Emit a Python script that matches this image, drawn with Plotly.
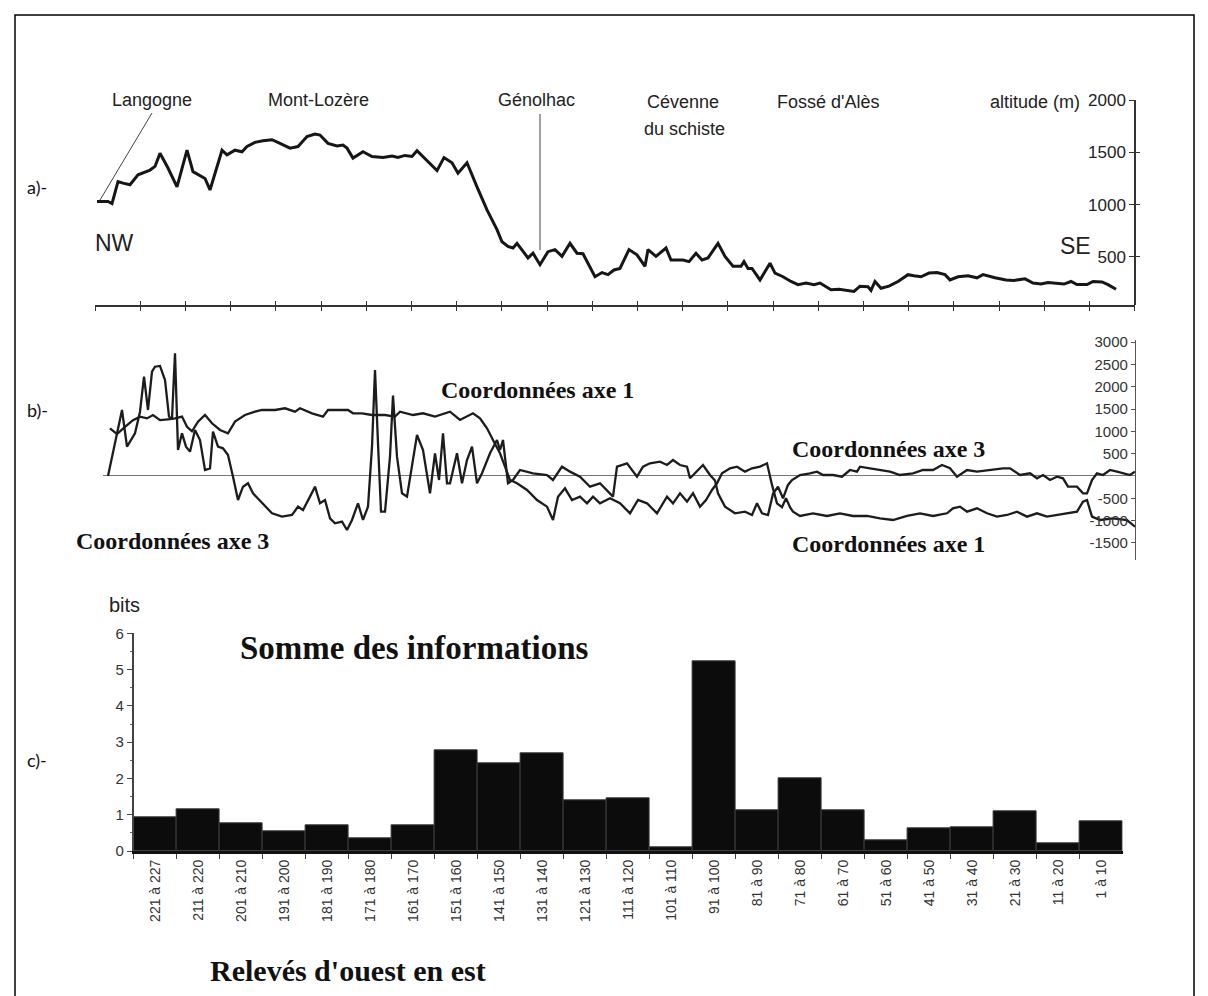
import plotly.graph_objects as go

W, H = 1208, 996
def fx(p): return p / W
def fy(p): return 1 - p / H

# ---------------- a) altitude profile (distance along transect, altitude m)
profile_dist = [0,11,15,21,26,33,41,53,58,63,71,80,90,96,108,113,125,130,138,145,
                150,158,166,175,183,193,201,210,218,223,231,240,246,250,256,266,275,286,295,301,
                308,315,320,330,340,347,355,361,370,380,390,400,405,411,416,420,431,436,443,451,
                458,465,473,480,486,498,505,511,517,523,532,540,548,551,559,569,574,586,592,599,
                605,611,621,628,636,644,647,651,655,663,673,678,686,694,701,709,717,723,728,734,
                742,751,757,763,771,774,778,784,792,801,811,817,824,832,840,848,853,861,871,880,
                886,898,909,917,928,936,944,951,959,967,974,980,990,996,1005,1011,1019]
profile_alt = [1030,1030,1010,1220,1205,1190,1285,1330,1365,1490,1350,1170,1520,1315,1250,1140,1520,1475,1520,1505,
               1555,1595,1610,1620,1585,1540,1555,1650,1675,1665,1585,1560,1570,1540,1445,1505,1460,1450,1465,1450,
               1470,1460,1515,1420,1325,1450,1400,1300,1400,1170,950,760,645,600,585,630,490,535,425,550,
               570,505,630,535,530,310,350,330,375,390,570,520,410,570,505,585,470,470,455,535,
               470,490,630,505,410,410,455,390,390,280,440,345,310,265,235,250,235,250,220,185,
               190,180,170,220,215,180,265,200,220,265,330,320,310,345,350,330,280,310,320,300,
               330,300,280,275,290,250,240,255,250,240,265,235,235,265,260,235,190]
alt_ticks = [500, 1000, 1500, 2000]

# ---------------- b) coordinates on factorial axes 1 and 3
axe1_dist = [10,17,25,33,40,47,53,60,68,75,82,87,92,98,105,112,120,128,135,145,
             155,162,175,185,195,200,212,223,228,248,253,262,272,285,295,300,313,323,335,350,
             360,367,373,380,387,393,400,405,410,417,427,437,447,453,458,465,472,480,487,493,
             500,510,520,530,538,547,557,567,573,580,587,593,600,606,612,617,622,630,637,645,
             652,660,667,672,677,682,686,690,693,700,713,727,740,753,767,780,793,807,820,833,
             847,853,860,867,877,887,897,907,917,927,937,947,957,967,977,983,987,992,1000,1013,
             1027,1035]
axe1_coord = [1068,940,1100,1250,1330,1290,1366,1250,1270,1290,1330,1100,1000,1217,1366,1180,1030,956,1217,1366,
              1440,1478,1478,1516,1440,1516,1404,1330,1478,1478,1404,1404,1366,1366,1330,1440,1366,1404,1330,1440,
              1254,1330,1404,1292,1068,806,508,209,-90,-164,-314,-538,-687,-986,-463,-276,-538,-463,-612,-463,
              -612,-500,-612,-836,-538,-612,-836,-463,-612,-388,-574,-388,-687,-538,-314,-164,60,172,209,97,
              172,209,284,-200,-612,-700,-500,-700,-799,-896,-836,-896,-836,-896,-896,-948,-986,-896,-836,-896,
              -836,-724,-687,-799,-724,-836,-911,-874,-799,-911,-836,-911,-874,-836,-799,-575,-538,-911,-986,-948,
              -986,-1135]
axe3_dist = [8,22,27,35,40,44,48,52,55,60,65,69,72,75,78,82,86,90,95,100,
             105,110,113,118,123,128,133,138,143,148,153,162,172,182,192,198,203,210,215,220,
             225,230,235,242,247,252,258,263,268,272,275,278,281,285,290,293,297,302,307,317,
             323,330,335,339,343,347,350,357,362,367,372,377,382,390,397,400,403,408,413,420,
             433,447,453,462,470,480,490,500,510,513,517,527,537,543,550,560,567,573,580,587,
             590,597,603,610,615,618,625,635,645,652,657,662,668,673,678,683,688,692,700,710,
             717,723,733,742,750,757,760,770,780,790,800,813,823,833,842,850,857,867,877,890,
             903,910,920,930,937,943,950,957,963,968,977,983,987,992,997,1003,1010,1017,1023,1030,
             1035]
axe3_coord = [0,1478,656,956,1440,2224,1478,2336,2448,2464,2150,1329,1292,2748,582,956,656,545,1030,806,
              134,172,993,656,620,470,-15,-538,-240,-164,-388,-612,-836,-911,-874,-687,-762,-463,-240,-612,
              -538,-949,-1060,-1023,-1210,-985,-612,-985,-687,656,2374,731,-799,-799,432,1800,432,-388,-463,918,
              582,-388,508,-90,956,-164,-164,508,-164,358,656,-164,60,508,806,582,806,-164,-90,134,
              60,22,-90,209,97,-15,-240,-164,-388,-463,209,284,-15,209,284,321,246,358,246,209,
              -52,97,246,22,-100,-388,-687,-836,-799,-874,-612,-836,-874,-400,-240,-500,-200,-90,22,60,
              97,22,22,-15,134,97,209,172,134,97,22,60,134,134,246,172,-15,134,97,134,
              172,172,22,60,-52,22,-90,-15,-52,-240,-240,-388,-388,-90,60,22,134,97,60,22,
              97]
coord_ticks = [3000, 2500, 2000, 1500, 1000, 500, -500, -1000, -1500]
coord_ticktext = ["3000", "2500", "2000", "1500", "1000", "500", "-500", "-1000", "-1500"]

# ---------------- c) sum of information (bits) per group of relevés
releve_groups = ["221 à 227", "211 à 220", "201 à 210", "191 à 200", "181 à 190", "171 à 180",
                 "161 à 170", "151 à 160", "141 à 150", "131 à 140", "121 à 130", "111 à 120",
                 "101 à 110", "91 à 100", "81 à 90", "71 à 80", "61 à 70", "51 à 60",
                 "41 à 50", "31 à 40", "21 à 30", "11 à 20", "1 à 10"]
info_bits = [0.94, 1.15, 0.76, 0.54, 0.71, 0.35, 0.71, 2.77, 2.42, 2.70, 1.41, 1.46,
             0.11, 5.24, 1.11, 2.01, 1.11, 0.30, 0.63, 0.65, 1.09, 0.20, 0.81]

SANS = "Liberation Sans, Arial, Helvetica, sans-serif"
SERIF = "Liberation Serif, Times New Roman, serif"
INK = "#161616"

fig = go.Figure()
fig.add_trace(go.Scatter(x=profile_dist, y=profile_alt, mode="lines",
                         line=dict(color=INK, width=3), xaxis="x", yaxis="y",
                         showlegend=False, hoverinfo="skip"))
fig.add_trace(go.Scatter(x=axe1_dist, y=axe1_coord, mode="lines", name="Coordonnées axe 1",
                         line=dict(color="#1c1c1c", width=2.3), xaxis="x2", yaxis="y2",
                         showlegend=False, hoverinfo="skip"))
fig.add_trace(go.Scatter(x=axe3_dist, y=axe3_coord, mode="lines", name="Coordonnées axe 3",
                         line=dict(color="#1c1c1c", width=2.3), xaxis="x2", yaxis="y2",
                         showlegend=False, hoverinfo="skip"))
fig.add_trace(go.Bar(x=releve_groups, y=info_bits, xaxis="x3", yaxis="y3",
                     marker=dict(color="#0c0c0c", line=dict(color="#3c3c3c", width=1)),
                     showlegend=False, hoverinfo="skip"))
# empty traces so the overlay axes (crossing tick marks of panel a) get drawn
fig.add_trace(go.Scatter(x=[], y=[], xaxis="x4", yaxis="y", showlegend=False, hoverinfo="skip"))
fig.add_trace(go.Scatter(x=[], y=[], xaxis="x", yaxis="y4", showlegend=False, hoverinfo="skip"))

fig.update_layout(
    width=W, height=H, margin=dict(l=0, r=0, t=0, b=0, autoexpand=False),
    paper_bgcolor="white", plot_bgcolor="rgba(0,0,0,0)", bargap=0,
    xaxis=dict(domain=[fx(95), fx(1135)], range=[-2, 1038], anchor="y", automargin=False,
               showline=True, linecolor="#333", linewidth=1.5,
               ticks="outside", ticklen=4, tickcolor="#333", tickwidth=1,
               tick0=-2, dtick=45.2, showticklabels=False,
               showgrid=False, zeroline=False),
    xaxis4=dict(domain=[fx(95), fx(1135)], range=[-2, 1038], anchor="y", overlaying="x",
                automargin=False, showline=False,
                ticks="inside", ticklen=4, tickcolor="#333", tickwidth=1,
                tick0=-2, dtick=45.2, showticklabels=False, showgrid=False, zeroline=False),
    yaxis=dict(domain=[fy(305), fy(100)], range=[40, 2000], anchor="free",
               position=fx(1135), side="left", automargin=False,
               showline=True, linecolor="#333", linewidth=1.5,
               ticks="outside", ticklen=5, tickcolor="#333",
               tickvals=alt_ticks, tickfont=dict(family=SANS, size=17, color="#222"),
               showgrid=False, zeroline=False),
    yaxis4=dict(domain=[fy(305), fy(100)], range=[40, 2000], anchor="free", overlaying="y",
                position=fx(1135), side="left", automargin=False, showline=False,
                ticks="inside", ticklen=4, tickcolor="#333",
                tickvals=alt_ticks, showticklabels=False, showgrid=False, zeroline=False),
    xaxis2=dict(domain=[fx(103), fx(1135)], range=[3, 1035], anchor="y2", automargin=False,
                visible=False, showgrid=False, zeroline=False),
    yaxis2=dict(domain=[fy(560), fy(340)], range=[-1882, 3046], anchor="free",
                position=fx(1135), side="left", automargin=False,
                showline=True, linecolor="#555", linewidth=1.2,
                ticks="outside", ticklen=4, tickcolor="#555",
                tickvals=coord_ticks, ticktext=coord_ticktext,
                tickfont=dict(family=SANS, size=15, color="#333"),
                showgrid=False, zeroline=True, zerolinecolor="#777", zerolinewidth=1.2),
    xaxis3=dict(domain=[fx(133.6), fx(1122.6)], anchor="y3", type="category", automargin=False,
                showline=True, linecolor="#111", linewidth=3,
                ticks="outside", tickson="boundaries", ticklen=5, tickcolor="#444",
                tickangle=-90, tickfont=dict(family=SANS, size=14, color="#333"),
                showgrid=False, zeroline=False),
    yaxis3=dict(domain=[fy(851), fy(633.3)], range=[0, 6], anchor="x3", automargin=False,
                showline=True, linecolor="#444", linewidth=1.5,
                ticks="outside", ticklen=5, tickcolor="#444", dtick=1,
                minor=dict(dtick=0.5, ticks="outside", ticklen=2, tickcolor="#666"),
                tickfont=dict(family=SANS, size=15, color="#333"),
                showgrid=False, zeroline=False),
)

def note(text, px, py, size, family=SANS, color="#222", xanchor="center", bold=False):
    t = f"<b>{text}</b>" if bold else text
    fig.add_annotation(text=t, x=fx(px), y=fy(py), xref="paper", yref="paper",
                       xanchor=xanchor, yanchor="middle", showarrow=False,
                       font=dict(family=family, size=size, color=color))

# panel labels
for lab, py in [("a)-", 187), ("b)-", 410), ("c)-", 760)]:
    note(lab, 25, py, 18, family="Lato, Open Sans, sans-serif", color="#111", xanchor="left")

# a) place names
note("Langogne", 152, 100, 18)
note("Mont-Lozère", 318, 100, 18)
note("Génolhac", 536, 100, 18)
note("Cévenne", 683, 102, 18)
note("du schiste", 684, 129, 18)
note("Fossé d'Alès", 828, 102, 18)
note("altitude (m)", 1082, 102, 18, xanchor="right")
note("NW", 114, 243, 23)
note("SE", 1075, 246, 23)

# b) curve labels
note("Coordonnées axe 1", 537, 390, 24, family=SERIF, color="#111", bold=True)
note("Coordonnées axe 3", 888, 449, 24, family=SERIF, color="#111", bold=True)
note("Coordonnées axe 1", 888, 544, 24, family=SERIF, color="#111", bold=True)
note("Coordonnées axe 3", 172, 541, 24, family=SERIF, color="#111", bold=True)

# c) titles
note("bits", 124, 605, 20, color="#222")
note("Somme des informations", 414, 648, 33, family=SERIF, color="#111", bold=True)
note("Relevés d'ouest en est", 348, 970, 30, family=SERIF, color="#111", bold=True)

# leader lines and frame
fig.add_shape(type="line", xref="paper", yref="paper",
              x0=fx(152), y0=fy(113), x1=fx(100), y1=fy(200),
              line=dict(color="#444", width=1))
fig.add_shape(type="line", xref="paper", yref="paper",
              x0=fx(540), y0=fy(114), x1=fx(540), y1=fy(250),
              line=dict(color="#444", width=1))
fig.add_shape(type="rect", xref="paper", yref="paper",
              x0=fx(15), y0=fy(1010), x1=fx(1194), y1=fy(15),
              line=dict(color="black", width=1.5), fillcolor="rgba(0,0,0,0)")

fig.write_html("out.html", config={"displayModeBar": False},
               post_script="document.body.style.margin='0';document.body.style.overflow='hidden';")
